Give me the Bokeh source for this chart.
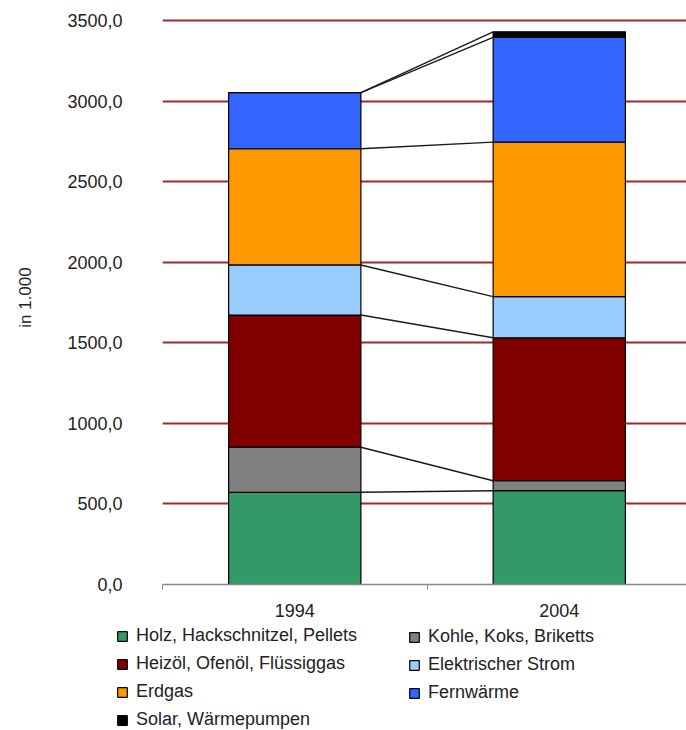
from bokeh.plotting import figure
from bokeh.layouts import column
from bokeh.models import ColumnDataSource, FixedTicker, Legend, LegendItem, Range1d
from bokeh.embed import file_html
from bokeh.resources import INLINE

# Haushalte nach überwiegend genutzter Heizenergie, in 1.000
years = ["1994", "2004"]
series = [
    "Holz, Hackschnitzel, Pellets",
    "Kohle, Koks, Briketts",
    "Heizöl, Ofenöl, Flüssiggas",
    "Elektrischer Strom",
    "Erdgas",
    "Fernwärme",
    "Solar, Wärmepumpen",
]
holz = [572, 582]
kohle = [280, 62]
heizoel = [820, 887]
strom = [311, 255]
erdgas = [721, 959]
fernwaerme = [348, 650]
solar = [0, 35]

y_ticks = [0, 500, 1000, 1500, 2000, 2500, 3000, 3500]
y_tick_labels = ["0,0", "500,0", "1000,0", "1500,0", "2000,0", "2500,0", "3000,0", "3500,0"]

colors = ["#339966", "#808080", "#800000", "#99CCFF", "#FF9900", "#3366FF", "#000000"]
keys = ["holz", "kohle", "heizoel", "strom", "erdgas", "fernwaerme", "solar"]
values = [holz, kohle, heizoel, strom, erdgas, fernwaerme, solar]

FONT = "Liberation Sans"
TEXT = "#222222"
SIZE = "18px"
bar_w = 0.5
xs = [i + 0.5 for i in range(len(years))]

data = {"x": xs}
data.update({k: v for k, v in zip(keys, values)})
src = ColumnDataSource(data)

p = figure(
    width=686, height=625,
    x_range=Range1d(0, 1.981), y_range=Range1d(0, 3562),
    output_backend="svg", toolbar_location=None,
    min_border_left=162, min_border_right=0,
    min_border_top=10, min_border_bottom=41,
)
p.frame_align = False
p.outline_line_color = None
p.background_fill_color = "white"
p.border_fill_color = "white"

# stacked columns
renderers = p.vbar_stack(
    keys, x="x", width=bar_w, source=src,
    fill_color=colors, line_color="black", line_width=1.2,
)

# series lines joining the segment boundaries of both columns
cum_a, cum_b = [], []
sa = sb = 0
for v in values:
    sa += v[0]
    sb += v[1]
    cum_a.append(sa)
    cum_b.append(sb)
p.segment(
    x0=[xs[0] + bar_w / 2] * len(cum_a), y0=cum_a,
    x1=[xs[1] - bar_w / 2] * len(cum_b), y1=cum_b,
    line_color="#1a1a1a", line_width=1.4,
)

# y axis
p.yaxis.ticker = FixedTicker(ticks=y_ticks)
p.yaxis.major_label_overrides = {t: l for t, l in zip(y_ticks, y_tick_labels)}
p.yaxis.axis_line_color = None
p.yaxis.major_tick_line_color = None
p.yaxis.minor_tick_line_color = None
p.yaxis.major_tick_out = 0
p.yaxis.major_label_standoff = 40
p.yaxis.major_label_text_font = FONT
p.yaxis.major_label_text_font_size = SIZE
p.yaxis.major_label_text_color = TEXT
p.yaxis.axis_label = "in 1.000"
p.yaxis.axis_label_text_font = FONT
p.yaxis.axis_label_text_font_size = "17px"
p.yaxis.axis_label_text_font_style = "normal"
p.yaxis.axis_label_text_color = TEXT
p.yaxis.axis_label_standoff = 29

# x axis
p.xaxis.ticker = FixedTicker(ticks=xs, minor_ticks=[float(i) for i in range(len(years) + 1)])
p.xaxis.major_label_overrides = {x: y for x, y in zip(xs, years)}
p.xaxis.axis_line_color = "#888888"
p.xaxis.axis_line_width = 1.5
p.xaxis.major_tick_line_color = None
p.xaxis.major_tick_out = 0
p.xaxis.minor_tick_line_color = "#888888"
p.xaxis.minor_tick_out = 5
p.xaxis.minor_tick_in = 0
p.xaxis.major_label_standoff = 14
p.xaxis.major_label_text_font = FONT
p.xaxis.major_label_text_font_size = SIZE
p.xaxis.major_label_text_color = TEXT

# grid
p.xgrid.visible = False
p.ygrid.ticker = FixedTicker(ticks=y_ticks[1:])
p.ygrid.grid_line_color = "#9E2A2B"
p.ygrid.grid_line_width = 2

# legend strip underneath: same series styles, renderers hidden so only
# the legend entries show
lg = figure(
    width=686, height=105,
    x_range=Range1d(0, 1), y_range=Range1d(0, 1),
    output_backend="svg", toolbar_location=None,
    x_axis_location=None, y_axis_location=None,
    min_border=0, min_border_left=0, min_border_right=0,
    min_border_top=0, min_border_bottom=0,
)
lg.frame_align = False
lg.outline_line_color = None
lg.xgrid.visible = False
lg.ygrid.visible = False
swatches = lg.vbar_stack(
    keys, x="x", width=bar_w, source=src,
    fill_color=colors, line_color="black", line_width=1.2,
)
for r in swatches:
    r.visible = False

def make_legend(idx, loc):
    leg = Legend(
        items=[LegendItem(label=series[i], renderers=[swatches[i]]) for i in idx],
        location=loc, orientation="vertical",
        padding=0, margin=0, spacing=7,
        glyph_width=12, glyph_height=12, label_standoff=8, label_height=20,
        label_text_font=FONT, label_text_font_size=SIZE, label_text_color=TEXT,
        border_line_color=None, background_fill_alpha=0,
        inactive_fill_alpha=0,
    )
    lg.add_layout(leg, "center")

make_legend([0, 2, 4, 6], (116, 0))
make_legend([1, 3, 5], (408, 27))

page = column(p, lg, spacing=0)
open("out.html", "w").write(file_html(page, INLINE))
